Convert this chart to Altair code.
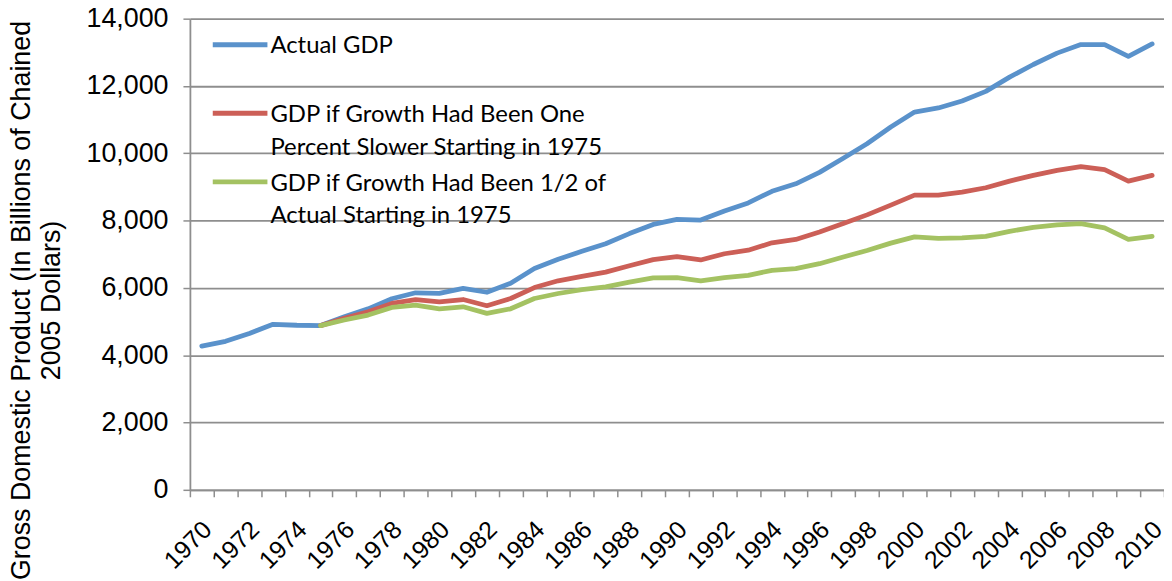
import altair as alt
import pandas as pd

years = list(range(1970, 2011))
actual_gdp = [4269.9, 4413.3, 4647.7, 4917.0, 4889.9, 4879.5, 5141.3, 5377.7, 5677.6, 5855.0,
              5839.0, 5987.2, 5870.9, 6136.2, 6577.1, 6849.3, 7086.5, 7313.3, 7613.9, 7885.9,
              8033.9, 8015.1, 8287.1, 8523.4, 8870.7, 9093.7, 9433.9, 9854.3, 10283.5, 10779.8,
              11226.0, 11347.2, 11553.0, 11840.7, 12263.8, 12638.4, 12976.2, 13228.9, 13228.8,
              12880.6, 13248.2]
alt_years = list(range(1975, 2011))
one_pct_slower = [4879.5, 5094, 5291, 5537, 5650, 5586, 5655, 5470, 5685, 6010,
                  6210, 6340, 6470, 6660, 6840, 6930, 6830, 7015, 7120, 7340,
                  7440, 7660, 7910, 8170, 8460, 8756, 8760, 8846, 8975, 9174,
                  9343, 9493, 9602, 9512, 9174, 9343]
half_growth = [4879.5, 5045, 5192, 5419, 5488, 5379, 5438, 5242, 5379, 5685,
               5833, 5951, 6030, 6170, 6296, 6305, 6207, 6305, 6374, 6522,
               6571, 6719, 6916, 7113, 7330, 7515, 7470, 7483, 7532, 7682,
               7801, 7870, 7910, 7781, 7443, 7532]

s1 = "Actual GDP"
s2 = "GDP if Growth Had Been One Percent Slower Starting in 1975"
s3 = "GDP if Growth Had Been 1/2 of Actual Starting in 1975"
series_names = [s1, s2, s3]
series_colors = ["#5A92CB", "#CC5F57", "#A4C262"]
y_ticks = [0, 2000, 4000, 6000, 8000, 10000, 12000, 14000]

rows = []
for y, v in zip(years, actual_gdp):
    rows.append({"year": y, "gdp": v, "series": s1})
for y, v in zip(alt_years, one_pct_slower):
    rows.append({"year": y, "gdp": v, "series": s2})
for y, v in zip(alt_years, half_growth):
    rows.append({"year": y, "gdp": v, "series": s3})
df = pd.DataFrame(rows)

label_expr = (
    "datum.label == 'Actual GDP' ? ['Actual GDP', ''] : "
    "indexof(datum.label, 'One') > 0 ? ['GDP if Growth Had Been One', 'Percent Slower Starting in 1975'] : "
    "['GDP if Growth Had Been 1/2 of', 'Actual Starting in 1975']"
)

grey = "#8E8E8E"

chart = alt.Chart(df).mark_line(strokeWidth=4.8, strokeJoin="round", strokeCap="round").encode(
    x=alt.X("year:O",
            scale=alt.Scale(type="band", paddingInner=0, paddingOuter=0),
            axis=alt.Axis(title=None, labelAngle=315, labelAlign="right", labelBaseline="top",
                          labelExpr="datum.value % 2 == 0 ? datum.label : ''",
                          labelOverlap=False, labelFont="Liberation Sans", labelFontSize=25,
                          labelColor="black", labelPadding=20, labelOffset=-3, tickBand="extent",
                          tickSize=7, tickColor=grey, tickWidth=1.5,
                          domainColor=grey, domainWidth=1.8, grid=False)),
    y=alt.Y("gdp:Q",
            scale=alt.Scale(domain=[0, 14000], nice=False),
            axis=alt.Axis(values=y_ticks, format=",.0f",
                          title=["Gross Domestic Product (In Billions of Chained", "2005 Dollars)"],
                          titleFont="Liberation Sans", titleFontSize=27, titleFontWeight="normal",
                          titleColor="black", titleLineHeight=30, titleAngle=270,
                          titleAlign="center", titleBaseline="top", titleX=-182, titleY=283,
                          labelFont="Liberation Sans", labelFontSize=27, labelColor="black",
                          labelPadding=15, tickSize=7, tickColor=grey, tickWidth=1.5,
                          domainColor=grey, domainWidth=1.8,
                          gridColor=grey, gridWidth=1.8)),
    color=alt.Color("series:N",
                    scale=alt.Scale(domain=series_names, range=series_colors),
                    legend=alt.Legend(orient="none", legendX=38.5, legendY=4, title=None,
                                      labelExpr=label_expr, symbolType="M-4.583,1.7L4.583,1.7",
                                      symbolSize=144, symbolStrokeWidth=5,
                                      labelFont="Lato", labelFontSize=24, labelColor="black",
                                      labelBaseline="top", labelLimit=600, rowPadding=-1,
                                      padding=0, labelOffset=18.5)),
).properties(
    width=980, height=474,
    autosize=alt.AutoSizeParams(type="none"),
    padding={"left": 183, "top": 9, "right": 0, "bottom": 90},
).configure(
    background="white",
    view={"strokeWidth": 0},
    style={"guide-label": {"lineHeight": 33}},
)

chart.save("out.html", embed_options={"renderer": "svg", "actions": False})
